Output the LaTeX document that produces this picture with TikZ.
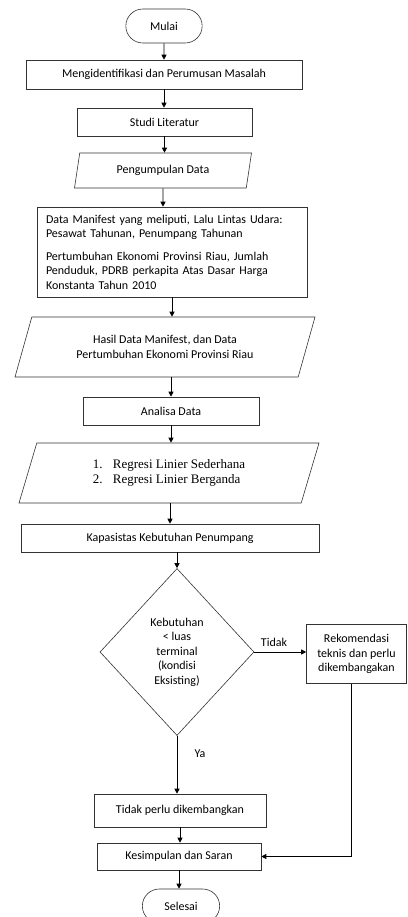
\documentclass[tikz,border=0pt]{standalone}
\usepackage{fontspec}
\setmainfont{Carlito}
\newfontfamily\timesfont{Liberation Serif}
\usetikzlibrary{shapes.geometric, shapes.misc, arrows.meta}

\begin{document}
\begin{tikzpicture}[x=1pt, y=-1pt,
      every node/.style={font=\fontsize{12}{14.5}\selectfont},
      box/.style={draw=black!80, line width=0.6pt, rectangle,
        minimum height=28pt, align=center, inner sep=2pt},
      io/.style 2 args={draw=black!80, line width=0.6pt, trapezium,
        trapezium left angle=#1, trapezium right angle=#2,
        trapezium stretches body, align=center, inner sep=2pt},
      term/.style={draw=black!80, line width=0.6pt, rounded rectangle,
        minimum width=83pt, minimum height=34pt},
      >={Triangle[length=5pt, width=5pt]},
      line/.style={->, line width=0.8pt}]
    \useasboundingbox (0,0) rectangle (407,917);

    \node[term] (mulai) at (164,26) {Mulai};
    \node[box, minimum width=276pt, minimum height=29pt] (ident) at (164,74.5) {Mengidentifikasi dan Perumusan Masalah};
    \node[box, minimum width=175pt] (studi) at (164.5,122) {Studi Literatur};
    \node[io={70}{110}, minimum width=177pt, minimum height=35pt] (kumpul) at (163,170.5) {Pengumpulan Data};
    \node[box, minimum width=270pt, minimum height=90pt, text width=252pt, align=left] (manifest) at (172,252)
      {Data Manifest yang meliputi, Lalu Lintas Udara:\\
       Pesawat Tahunan, Penumpang Tahunan\\[8pt]
       Pertumbuhan Ekonomi Provinsi Riau, Jumlah\\
       Penduduk, PDRB perkapita Atas Dasar Harga\\
       Konstanta Tahun 2010};
    \node[io={58}{122}, minimum width=300pt, minimum height=60pt] (hasil) at (165,347)
      {Hasil Data Manifest, dan Data\\Pertumbuhan Ekonomi Provinsi Riau};
    \node[box, minimum width=176pt] (analisa) at (171,411) {Analisa Data};
    \node[io={60}{120}, minimum width=300pt, minimum height=60pt, align=left,
          font=\timesfont\fontsize{13}{15}\selectfont] (regresi) at (169,473)
      {\makebox[20pt][l]{1.}Regresi Linier Sederhana\\
       \makebox[20pt][l]{2.}Regresi Linier Berganda};
    \node[box, minimum width=298pt] (kap) at (170,538) {Kapasistas Kebutuhan Penumpang};
    \node[draw=black!80, line width=0.6pt, diamond, minimum width=154pt, minimum height=167pt,
          align=center, inner sep=0pt] (dec) at (177,652)
      {Kebutuhan\\< luas\\terminal\\(kondisi\\Eksisting)};
    \node[box, minimum width=100pt, minimum height=59pt] (rek) at (356.5,654)
      {Rekomendasi\\teknis dan perlu\\dikembangakan};
    \node[box, minimum width=172pt, minimum height=33pt] (tdk) at (180,810.5) {Tidak perlu dikembangkan};
    \node[box, minimum width=164pt, minimum height=27pt] (kes) at (179,856.5) {Kesimpulan dan Saran};
    \node[term, minimum width=84pt] (selesai) at (181,906) {Selesai};
    \node (tidak) at (274,642) {Tidak};
    \node (ya) at (200,754) {Ya};

    % alur utama
    \draw[line] (mulai) -- (mulai |- ident.north);
    \draw[line] (ident) -- (ident |- studi.north);
    \draw[line] (studi) -- (studi |- kumpul.north);
    \draw[line] (kumpul) -- (kumpul |- manifest.north);
    \draw[line] (manifest) -- (manifest |- hasil.north);
    \draw[line] (analisa |- hasil.south) -- (analisa);
    \draw[line] (analisa) -- (analisa |- regresi.north);
    \draw[line] (kap |- regresi.south) -- (kap);
    \draw[line] (dec |- kap.south) -- (dec);
    \draw[line] (dec) -- (dec |- tdk.north);
    \draw[line] (tdk) -- (tdk |- kes.north);
    \draw[line] (kes) -- (kes |- selesai.north);
    % cabang tidak
    \draw[line] (dec.east) -- (dec.east -| rek.west);
    \draw[line] ([xshift=-5pt]rek.south) |- (kes.east);
  \end{tikzpicture}
\end{document}
